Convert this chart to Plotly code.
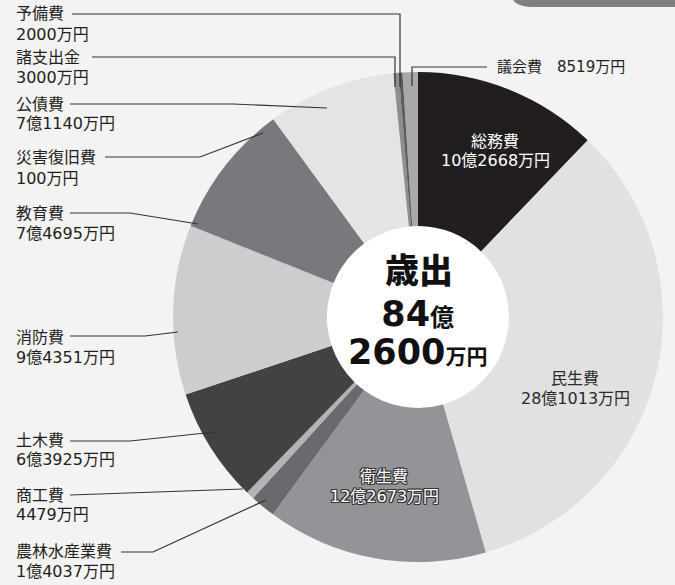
import plotly.graph_objects as go

# ---------------- data ----------------
categories = ["議会費", "総務費", "民生費", "衛生費", "農林水産業費", "商工費", "土木費",
              "消防費", "教育費", "災害復旧費", "公債費", "諸支出金", "予備費"]
amounts_man = [8519, 102668, 281013, 122673, 14037, 4479, 63925,
               94351, 74695, 100, 71140, 3000, 2000]   # 単位: 万円
center_title = "歳出"

# ---------------- styles ----------------
W, H = 675, 585
BG = "#f3f3f3"
INK = "#231f20"
slice_colors = {
    "議会費": "#a9a9ac", "総務費": "#221e1f", "民生費": "#e1e1e2", "衛生費": "#949397",
    "農林水産業費": "#6a696d", "商工費": "#b3b3b6", "土木費": "#424143", "消防費": "#cdcdcf",
    "教育費": "#79787c", "災害復旧費": "#79787c", "公債費": "#e4e4e5", "諸支出金": "#8e8e92",
    "予備費": "#5d5c60",
}
FONT = "DejaVu Sans, Noto Sans CJK JP, sans-serif"
CX, CY, R = 418, 317, 245          # pie centre / radius in pixels
HOLE_R = 91

# outside labels: (x, y line1, y line2) and leader-line points (pixels)
outside = {
    "予備費":       ((14, 13, 34),   [(72, 14), (400, 14), (400, 87)]),
    "諸支出金":     ((14, 57, 77),   [(92, 57), (395, 57), (395, 87)]),
    "公債費":       ((14, 104, 123), [(70, 104), (233, 104), (327, 108)]),
    "災害復旧費":   ((14, 157, 178), [(105, 157), (200, 157), (263, 133)]),
    "教育費":       ((14, 213, 233), [(70, 213), (130, 213), (198, 224)]),
    "消防費":       ((14, 337, 357), [(70, 336), (145, 336), (178, 332)]),
    "土木費":       ((14, 440, 459), [(70, 441), (130, 441), (215, 432)]),
    "商工費":       ((14, 495, 514), [(70, 495), (243, 489)]),
    "農林水産業費": ((14, 551, 571), [(121, 552), (153, 552), (266, 500)]),
}
inline_label = {"議会費": ((495, 67), [(487, 67), (412, 67), (412, 86)])}
inside = {
    "総務費": ((495, 141, 160), "white", False),
    "民生費": ((575, 378, 398), "#2a2a2a", False),
    "衛生費": ((384, 476, 496), "white", True),
}


def fmt(v):
    oku, man = divmod(v, 10000)
    return (f"{oku}億" if oku else "") + f"{man}万円"


total = sum(amounts_man)
rotation = -amounts_man[0] / total * 360

fig = go.Figure()
fig.add_trace(go.Pie(
    labels=categories, values=amounts_man, sort=False, direction="clockwise",
    rotation=rotation, hole=HOLE_R / R,
    marker=dict(colors=[slice_colors[c] for c in categories], line=dict(width=0)),
    textinfo="none", hoverinfo="label+value", showlegend=False,
    domain=dict(x=[(CX - R) / W, (CX + R) / W],
                y=[(H - CY - R) / H, (H - CY + R) / H]),
))

shapes = []
annotations = []

# white centre disc
shapes.append(dict(type="circle", xref="x", yref="y", layer="below",
                   x0=CX - HOLE_R, x1=CX + HOLE_R, y0=CY - HOLE_R, y1=CY + HOLE_R,
                   fillcolor="white", line=dict(width=0)))
# decorative header tab (top right)
shapes.append(dict(type="path", xref="x", yref="y", layer="above",
                   path="M 513,0 L 675,0 L 675,7 L 530,7 Q 517,6 513,0 Z",
                   fillcolor="#7f7e82", line=dict(width=0)))


def path_of(pts):
    return "M " + " L ".join(f"{x},{y}" for x, y in pts)


def add_text(x, y, text, size, color, xanchor="left", **extra):
    f = dict(family=FONT, size=size, color=color)
    f.update(extra)
    annotations.append(dict(x=x, y=y, xref="x", yref="y", xanchor=xanchor,
                            yanchor="middle", text=text, showarrow=False, font=f))


OUTLINE = ("1px 1px 0 #333, -1px -1px 0 #333, 1px -1px 0 #333, -1px 1px 0 #333, "
           "0 1px 0 #333, 0 -1px 0 #333, 1px 0 0 #333, -1px 0 0 #333")

for cat, val in zip(categories, amounts_man):
    if cat in outside:
        (lx, y1, y2), pts = outside[cat]
        add_text(lx, y1, cat, 16, INK)
        add_text(lx, y2, fmt(val), 16, INK)
        shapes.append(dict(type="path", xref="x", yref="y", path=path_of(pts),
                           line=dict(color="#333333", width=1.2)))
    elif cat in inline_label:
        (lx, ly), pts = inline_label[cat]
        add_text(lx, ly, f"{cat}　{fmt(val)}", 15, INK)
        shapes.append(dict(type="path", xref="x", yref="y", path=path_of(pts),
                           line=dict(color="#333333", width=1.2)))
    elif cat in inside:
        (lx, y1, y2), col, outline = inside[cat]
        extra = {"shadow": OUTLINE} if outline else {}
        add_text(lx, y1, cat, 16, col, xanchor="center", **extra)
        add_text(lx, y2, fmt(val), 16, col, xanchor="center", **extra)

# centre text
oku, man = divmod(total, 10000)
annotations.append(dict(x=419, y=268, xref="x", yref="y", showarrow=False,
                        text=center_title, borderpad=0,
                        font=dict(family="Noto Sans CJK JP", size=34, color="#111", weight=900)))
annotations.append(dict(
    x=417, y=333, xref="x", yref="y", showarrow=False, align="center", borderpad=0,
    text=(f"<span style='font-size:35px'>{oku}</span><span style='font-size:24px'>億</span><br>"
          f"<span style='font-size:35px'>{man}</span><span style='font-size:21px'>万円</span>"),
    font=dict(family=FONT, size=29, color="#111", weight="bold")))

fig.update_layout(
    width=W, height=H, margin=dict(l=0, r=0, t=0, b=0),
    paper_bgcolor=BG, plot_bgcolor=BG,
    xaxis=dict(range=[0, W], visible=False, showgrid=False, zeroline=False, fixedrange=True),
    yaxis=dict(range=[H, 0], visible=False, showgrid=False, zeroline=False, fixedrange=True),
    shapes=shapes, annotations=annotations, showlegend=False,
)

fig.write_html(
    "out.html",
    config={"displayModeBar": False},
    post_script="document.body.style.margin='0';document.body.style.background='#f3f3f3';",
)
